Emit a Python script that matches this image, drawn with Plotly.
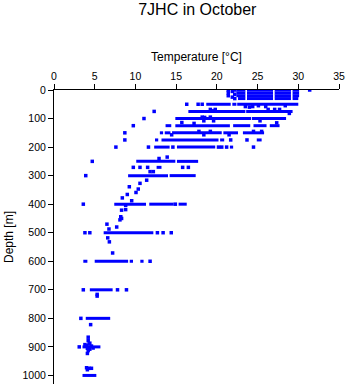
import plotly.graph_objects as go

# Horizontal runs of dense observations at standard depths: (depth, tmin, tmax)
seg_depth = [0, 0, 0, 0, 10, 10, 10, 10, 20, 20, 20, 20, 30, 30, 30, 30,
             50, 50, 50,
             75, 75,
             100, 100,
             125, 125, 125, 125, 125,
             150, 150, 150, 150, 150,
             175, 175, 175, 175,
             200, 200, 200,
             250, 250,
             271,
             300, 300,
             400, 400, 400,
             500,
             600, 600, 600, 600,
             700,
             800,
             900,
             1000]
seg_tmin = [22.4, 23.7, 27.1, 29.3, 22.4, 23.7, 27.1, 29.3, 22.4, 23.7, 27.1, 29.3, 22.6, 23.7, 27.1, 29.3,
            18.7, 21.9, 22.5,
            16.5, 23.6,
            14.9, 24.3,
            13.7, 14.9, 22.0, 24.5, 26.5,
            13.0, 13.6, 14.5, 20.8, 23.2,
            12.4, 13.2, 20.4, 24.9,
            12.3, 15.1, 21.6,
            10.1, 15.1,
            12.6,
            9.1, 14.2,
            7.4, 11.7, 15.3,
            6.1,
            3.6, 5.0, 9.3, 10.6,
            4.4,
            3.9,
            3.5,
            3.5]
seg_tmax = [23.5, 26.9, 29.1, 30.1, 23.5, 26.9, 29.1, 30.1, 23.5, 26.9, 29.1, 30.1, 23.5, 26.9, 29.1, 30.0,
            21.7, 22.4, 30.0,
            23.5, 29.3,
            24.2, 28.5,
            14.4, 21.6, 24.1, 26.1, 27.7,
            13.4, 14.3, 20.6, 22.6, 25.8,
            12.8, 20.2, 20.9, 25.5,
            14.2, 19.8, 22.0,
            14.9, 17.7,
            13.2,
            14.0, 17.4,
            11.3, 14.7, 16.3,
            12.2,
            4.1, 9.1, 9.7, 11.0,
            7.2,
            6.9,
            5.7,
            5.2]

# Individual observations: temperature [°C] and depth [m]
pt_temp = [21.4, 21.4, 21.4, 21.9, 21.9, 22.2, 22.2, 22.2, 31.4,
           16.3, 17.7, 18.2,
           23.5, 24.0, 24.4, 25.1, 26.0, 28.4,
           19.2, 19.8, 26.3, 27.1, 27.7, 19.6,
           12.3, 28.9,
           18.2, 18.5, 19.2,
           11.05, 15.7, 17.2, 18.4, 19.6, 25.3, 27.35,
           9.74,
           8.7, 17.8, 19.2, 24.5, 25.5, 14.45, 18.4, 21.5,
           8.7, 21.7, 23.7,
           7.6, 11.6, 14.6, 20.2, 20.6, 21.2, 24.5,
           12.9, 13.9,
           4.7,
           9.74, 10.56, 11.5, 15.8, 16.5, 11.8, 12.2,
           3.9,
           11.38, 10.56, 9.25, 10.35, 9.0, 10.07, 8.39, 9.54,
           3.6, 14.9, 8.8, 8.3, 8.8, 8.2, 8.3, 8.1,
           6.5, 6.75, 7.7,
           3.8, 4.4, 12.7, 13.4, 14.4,
           6.6, 6.8, 7.2,
           11.8,
           3.6, 7.8, 8.9, 5.3, 5.3,
           3.3, 4.5,
           4.2, 4.2, 4.4, 3.1, 3.8, 4.0, 4.3, 4.6, 4.1, 4.4, 4.8, 4.2, 4.1,
           4.0, 4.3, 4.6, 4.1]
pt_depth = [0, 10, 20, 5, 25, 0, 15, 30, 0,
            50, 50, 50,
            58, 60, 58, 55, 58, 55,
            68, 68, 68, 68, 68, 73,
            75, 82,
            95, 96, 95,
            100, 114, 117, 108, 108, 108, 115,
            125,
            150, 145, 145, 145, 145, 157, 157, 157,
            175, 175, 175,
            200, 200, 200, 200, 200, 200, 200,
            240, 235,
            250,
            271, 271, 271, 271, 271, 286, 286,
            300,
            316, 327, 339, 347, 366, 359, 378, 388,
            400, 400, 404, 421, 419, 444, 450, 455,
            470, 487, 480,
            500, 500, 500, 500, 500,
            518, 532, 571,
            600,
            700, 700, 700, 716, 722,
            800, 822,
            866, 878, 887, 900, 892, 895, 890, 897, 905, 908, 904, 913, 923,
            973, 975, 975, 980]

x_ticks = [0, 5, 10, 15, 20, 25, 30, 35]
y_ticks = [0, 100, 200, 300, 400, 500, 600, 700, 800, 900, 1000]

BLUE = "#0000FF"
FONT = "Liberation Sans, Arial, Helvetica, sans-serif"

seg_x, seg_y = [], []
for d, a, b in zip(seg_depth, seg_tmin, seg_tmax):
    seg_x += [a, b, None]
    seg_y += [d, d, None]

fig = go.Figure()
fig.add_trace(go.Scatter(x=seg_x, y=seg_y, mode="lines",
                         line=dict(color=BLUE, width=3), hoverinfo="skip",
                         showlegend=False))
fig.add_trace(go.Scatter(x=pt_temp, y=pt_depth, mode="markers",
                         marker=dict(color=BLUE, size=3.5, symbol="square",
                                     line=dict(width=0)),
                         showlegend=False))

fig.update_layout(
    width=348, height=384,
    margin=dict(l=54, r=9, t=90, b=0),
    paper_bgcolor="white", plot_bgcolor="white",
    font=dict(family=FONT, color="black", size=10.5),
    title=dict(text="7JHC in October", x=0.567, xanchor="center",
               y=1 - 9 / 384, yanchor="middle", yref="container",
               font=dict(size=16, family=FONT, color="black")),
    xaxis=dict(side="top", range=[0, 35], tickvals=x_ticks,
               ticks="outside", ticklen=5, tickwidth=1, tickcolor="black",
               showline=True, linecolor="black", linewidth=1,
               showgrid=False, zeroline=False,
               tickfont=dict(size=10.5),
               title=dict(text="Temperature [°C]", font=dict(size=12),
                          standoff=5)),
    yaxis=dict(range=[1030, 0], tickvals=y_ticks,
               ticks="outside", ticklen=5, tickwidth=1, tickcolor="black",
               showline=True, linecolor="black", linewidth=1,
               showgrid=False, zeroline=False,
               tickfont=dict(size=10.5),
               title=dict(text="Depth [m]", font=dict(size=12), standoff=6)),
)

fig.write_html("out.html")
